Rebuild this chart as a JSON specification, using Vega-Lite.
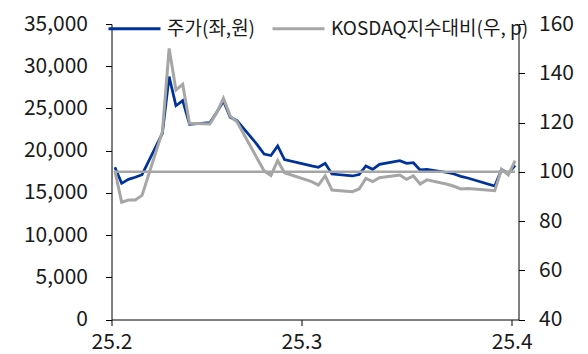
{
  "$schema": "https://vega.github.io/schema/vega-lite/v6.json",
  "width": 407,
  "height": 295.5,
  "autosize": "none",
  "padding": {"left": 111.5, "top": 24, "right": 69.5, "bottom": 34.5},
  "background": "white",
  "config": {
    "view": {"stroke": null},
    "font": "Noto Sans CJK KR",
    "axis": {
      "grid": false,
      "labelFont": "Noto Sans CJK KR",
      "labelFontSize": 21,
      "labelColor": "#1a1a1a",
      "domainColor": "#000000",
      "tickColor": "#000000",
      "domainWidth": 1,
      "tickWidth": 1,
      "tickSize": 6,
      "title": null
    }
  },
  "datasets": {
    "stock": [
      {"date": "2025-02-03T00:00:00", "price": 18030, "kosdaq": 100.4},
      {"date": "2025-02-04T00:00:00", "price": 16130, "kosdaq": 87.6},
      {"date": "2025-02-05T00:00:00", "price": 16600, "kosdaq": 88.5},
      {"date": "2025-02-06T00:00:00", "price": 16840, "kosdaq": 88.5},
      {"date": "2025-02-07T00:00:00", "price": 17150, "kosdaq": 90.4},
      {"date": "2025-02-10T00:00:00", "price": 22050, "kosdaq": 116.3},
      {"date": "2025-02-11T00:00:00", "price": 28760, "kosdaq": 150.1},
      {"date": "2025-02-12T00:00:00", "price": 25320, "kosdaq": 133.2},
      {"date": "2025-02-13T00:00:00", "price": 25920, "kosdaq": 135.5},
      {"date": "2025-02-14T00:00:00", "price": 23120, "kosdaq": 119.7},
      {"date": "2025-02-17T00:00:00", "price": 23310, "kosdaq": 119.4},
      {"date": "2025-02-18T00:00:00", "price": 24520, "kosdaq": 123.9},
      {"date": "2025-02-19T00:00:00", "price": 25880, "kosdaq": 129.8},
      {"date": "2025-02-20T00:00:00", "price": 23950, "kosdaq": 122.6},
      {"date": "2025-02-21T00:00:00", "price": 23550, "kosdaq": 120.3},
      {"date": "2025-02-24T00:00:00", "price": 20690, "kosdaq": 105.3},
      {"date": "2025-02-25T00:00:00", "price": 19600, "kosdaq": 100.3},
      {"date": "2025-02-26T00:00:00", "price": 19420, "kosdaq": 98.5},
      {"date": "2025-02-27T00:00:00", "price": 20550, "kosdaq": 104.5},
      {"date": "2025-02-28T00:00:00", "price": 18950, "kosdaq": 99.6},
      {"date": "2025-03-04T00:00:00", "price": 18190, "kosdaq": 96.0},
      {"date": "2025-03-05T00:00:00", "price": 18030, "kosdaq": 94.6},
      {"date": "2025-03-06T00:00:00", "price": 18500, "kosdaq": 98.3},
      {"date": "2025-03-07T00:00:00", "price": 17230, "kosdaq": 92.6},
      {"date": "2025-03-10T00:00:00", "price": 17000, "kosdaq": 91.9},
      {"date": "2025-03-11T00:00:00", "price": 17170, "kosdaq": 93.0},
      {"date": "2025-03-12T00:00:00", "price": 18180, "kosdaq": 97.3},
      {"date": "2025-03-13T00:00:00", "price": 17790, "kosdaq": 96.0},
      {"date": "2025-03-14T00:00:00", "price": 18380, "kosdaq": 97.6},
      {"date": "2025-03-17T00:00:00", "price": 18810, "kosdaq": 98.7},
      {"date": "2025-03-18T00:00:00", "price": 18500, "kosdaq": 96.9},
      {"date": "2025-03-19T00:00:00", "price": 18570, "kosdaq": 98.3},
      {"date": "2025-03-20T00:00:00", "price": 17710, "kosdaq": 95.0},
      {"date": "2025-03-21T00:00:00", "price": 17790, "kosdaq": 96.7},
      {"date": "2025-03-24T00:00:00", "price": 17410, "kosdaq": 94.9},
      {"date": "2025-03-25T00:00:00", "price": 17230, "kosdaq": 94.1},
      {"date": "2025-03-26T00:00:00", "price": 16960, "kosdaq": 93.0},
      {"date": "2025-03-27T00:00:00", "price": 16760, "kosdaq": 93.2},
      {"date": "2025-03-28T00:00:00", "price": 16520, "kosdaq": 93.0},
      {"date": "2025-03-31T00:00:00", "price": 15810, "kosdaq": 92.3},
      {"date": "2025-04-01T00:00:00", "price": 17770, "kosdaq": 101.0},
      {"date": "2025-04-02T00:00:00", "price": 17290, "kosdaq": 98.7},
      {"date": "2025-04-03T00:00:00", "price": 18260, "kosdaq": 104.5}
    ],
    "ref": [
      {"start": "2025-02-03T00:00:00", "end": "2025-04-03T00:00:00", "value": 100}
    ]
  },
  "layer": [
    {
      "data": {"name": "stock"},
      "mark": {"type": "line", "strokeWidth": 2.75},
      "encoding": {
        "x": {
          "field": "date",
          "type": "temporal",
          "scale": {
            "domain": [
              {"year": 2025, "month": 2, "date": 2, "hours": 12},
              {"year": 2025, "month": 4, "date": 3, "hours": 12}
            ]
          },
          "axis": {
            "values": [
              {"year": 2025, "month": 2, "date": 2, "hours": 12},
              {"year": 2025, "month": 3, "date": 2, "hours": 12},
              {"year": 2025, "month": 4, "date": 2, "hours": 12}
            ],
            "format": "%y.%-m",
            "labelPadding": 6,
            "labelFlush": false,
            "labelOverlap": false
          }
        },
        "y": {
          "field": "price",
          "type": "quantitative",
          "scale": {"domain": [0, 35000], "nice": false, "zero": true},
          "axis": {
            "orient": "left",
            "values": [0, 5000, 10000, 15000, 20000, 25000, 30000, 35000],
            "format": ",.0f",
            "labelPadding": 18
          }
        },
        "color": {
          "datum": "주가(좌,원)",
          "scale": {
            "domain": ["주가(좌,원)", "KOSDAQ지수대비(우, p)"],
            "range": ["#003399", "#a6a6a6"]
          },
          "legend": {
            "orient": "none",
            "legendX": -4.5,
            "legendY": -23,
            "direction": "horizontal",
            "title": null,
            "symbolType": "stroke",
            "symbolSize": 2704,
            "symbolStrokeWidth": 3,
            "labelFont": "Noto Sans CJK KR",
            "labelFontSize": 19,
            "labelColor": "#1a1a1a",
            "labelOffset": 5,
            "columnPadding": 10,
            "padding": 0,
            "labelLimit": 400
          }
        }
      }
    },
    {
      "layer": [
        {
          "data": {"name": "stock"},
          "mark": {"type": "line", "strokeWidth": 3},
          "encoding": {
            "x": {"field": "date", "type": "temporal"},
            "y": {
              "field": "kosdaq",
              "type": "quantitative",
              "scale": {"domain": [40, 160], "nice": false, "zero": false},
              "axis": {
                "orient": "right",
                "values": [40, 60, 80, 100, 120, 140, 160],
                "labelPadding": 14
              }
            },
            "color": {"datum": "KOSDAQ지수대비(우, p)"}
          }
        },
        {
          "data": {"name": "ref"},
          "mark": {"type": "rule", "color": "#a6a6a6", "strokeWidth": 2.5},
          "encoding": {
            "x": {"field": "start", "type": "temporal"},
            "x2": {"field": "end"},
            "y": {"field": "value", "type": "quantitative"}
          }
        }
      ]
    }
  ],
  "resolve": {"scale": {"y": "independent"}}
}
